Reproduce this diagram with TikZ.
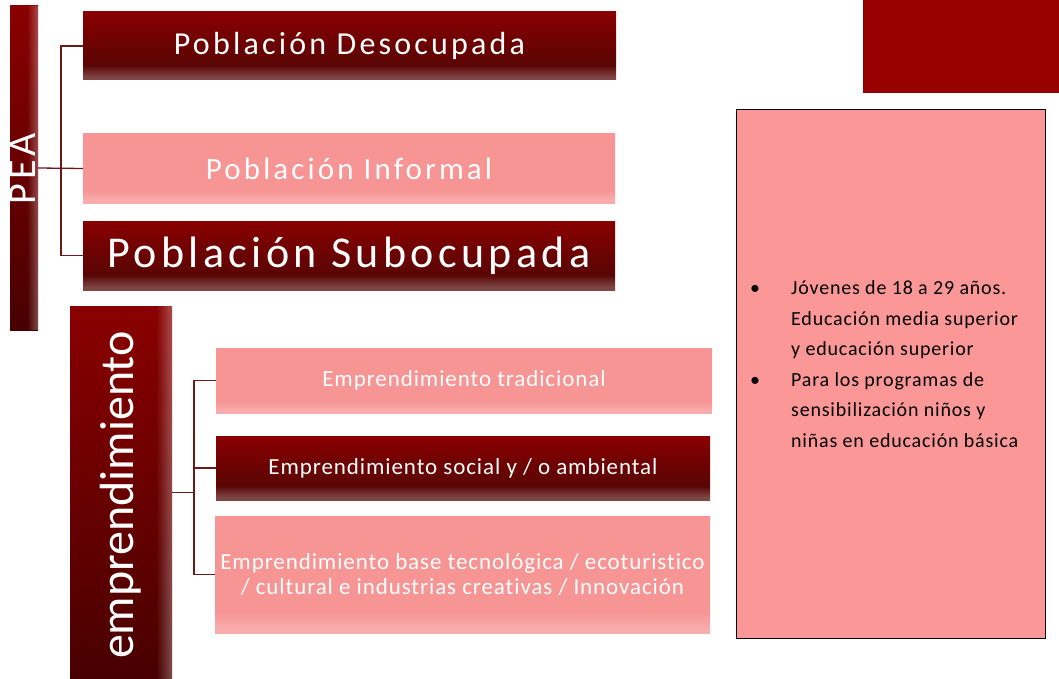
\documentclass[tikz,border=0pt]{standalone}
\usepackage{fontspec}
\setmainfont{Carlito}
\newfontfamily\boxfont[LetterSpace=10]{Carlito}
\newfontfamily\smallfont[LetterSpace=4,Ligatures=NoCommon]{Carlito}
\newfontfamily\listfont[LetterSpace=4]{Carlito}
\usetikzlibrary{positioning,calc,fadings}
\definecolor{rojoA}{RGB}{138,0,0}
\definecolor{rojoM}{RGB}{112,2,2}
\definecolor{rojoB}{RGB}{90,5,5}
\definecolor{rojoC}{RGB}{72,0,0}
\definecolor{rojoband}{RGB}{128,70,70}
\definecolor{rosa}{RGB}{247,148,148}
\definecolor{rosaband}{RGB}{249,172,172}
\definecolor{rosacaja}{RGB}{252,151,151}
\definecolor{rojotop}{RGB}{153,0,0}
\definecolor{linea}{RGB}{110,25,25}
\pgfdeclareverticalshading{cajaoscura}{100bp}{color(0bp)=(rojoband); color(27bp)=(rojoband); color(36bp)=(rojoB); color(55bp)=(rojoM); color(75bp)=(rojoA); color(100bp)=(rojoA)}
\pgfdeclareverticalshading{cajaclara}{100bp}{color(0bp)=(rosaband); color(27bp)=(rosaband); color(34bp)=(rosa); color(75bp)=(rosa); color(100bp)=(rosa)}
\pgfdeclareverticalshading{barra}{100bp}{color(0bp)=(rojoC); color(25bp)=(rojoC); color(75bp)=(rojoA); color(100bp)=(rojoA)}
\tikzfading[name=fadeR, left color=transparent!100, right color=transparent!0]

\begin{document}
\begin{tikzpicture}[x=1pt,y=-1pt,
  oscura/.style={shading=cajaoscura, inner sep=0pt, text=white},
  clara/.style={shading=cajaclara, inner sep=0pt, text=white},
  barrabox/.style={shading=barra, inner sep=0pt},
  conector/.style={draw=linea, line width=1.3pt}]
\useasboundingbox (0,0) rectangle (1059,679);

% PEA
\node[barrabox, minimum width=28pt, minimum height=324pt] (pea) at (24,168) {};
\fill[white, opacity=.3, path fading=fadeR] ($(pea.north east)+(-11,0)$) rectangle (pea.south east);
\node[rotate=90, text=white, font=\boxfont\fontsize{40}{40}\selectfont, inner sep=0pt] (peat) at (23,169) {PEA};

\node[oscura, minimum width=533pt, minimum height=68pt, font=\boxfont\fontsize{32}{36}\selectfont] (des) at (349.5,46) {Población Desocupada};
\node[clara, minimum width=532pt, minimum height=69pt, font=\boxfont\fontsize{31}{36}\selectfont] (inf) at (349,168.5) {Población Informal};
\node[oscura, minimum width=532pt, minimum height=69pt, font=\boxfont\fontsize{44}{46}\selectfont] (sub) at (349,255.5) {Población Subocupada};

\coordinate (pj) at (61,168);
\draw[conector] (pea.east) -- (inf.west);
\draw[conector] (des.west) -- (des.west -| pj) -- (sub.west -| pj) -- (sub.west);

% emprendimiento
\node[barrabox, minimum width=102pt, minimum height=373pt] (emp) at (121,492.5) {};
\fill[white, opacity=.3, path fading=fadeR] ($(emp.north east)+(-16,0)$) rectangle (emp.south east);
\node[rotate=90, text=white, font=\fontsize{48}{48}\selectfont, inner sep=0pt] (empt) at (121,495) {emprendimiento};

\node[clara, minimum width=496pt, minimum height=65pt, font=\smallfont\fontsize{23}{25}\selectfont] (tra) at (464,380.5) {Emprendimiento tradicional};
\node[oscura, minimum width=494pt, minimum height=64pt, font=\smallfont\fontsize{23}{25}\selectfont] (soc) at (463,468) {Emprendimiento social y / o ambiental};
\node[clara, minimum width=495pt, minimum height=117pt, align=center, font=\smallfont\fontsize{23}{25}\selectfont] (tec) at (462.5,574.5) {Emprendimiento base tecnológica / ecoturistico\\/ cultural e industrias creativas / Innovación};

\coordinate (ej) at (194,492.5);
\draw[conector] (emp.east) -- (ej);
\draw[conector] (tra.west) -- (tra.west -| ej) -- (tec.west -| ej) -- (tec.west);
\draw[conector] (soc.west -| ej) -- (soc.west);

% lado derecho
\node[fill=rojotop, minimum width=196pt, minimum height=93pt, inner sep=0pt] (esq) at (961,46.5) {};
\node[draw=black, fill=rosacaja, line width=1pt, minimum width=309pt, minimum height=528pt, inner sep=0pt] (perfil) at (890.5,374) {};
\node[anchor=north west, inner sep=0pt, font=\listfont\fontsize{20}{30.5}\selectfont] (lista) at (750,273) {%
\begin{tabular}{@{}p{41pt}@{}l@{}}
\textbullet & Jóvenes de 18 a 29 años.\\
 & Educación media superior\\
 & y educación superior\\
\textbullet & Para los programas de\\
 & sensibilización niños y\\
 & niñas en educación básica
\end{tabular}};
\end{tikzpicture}
\end{document}
